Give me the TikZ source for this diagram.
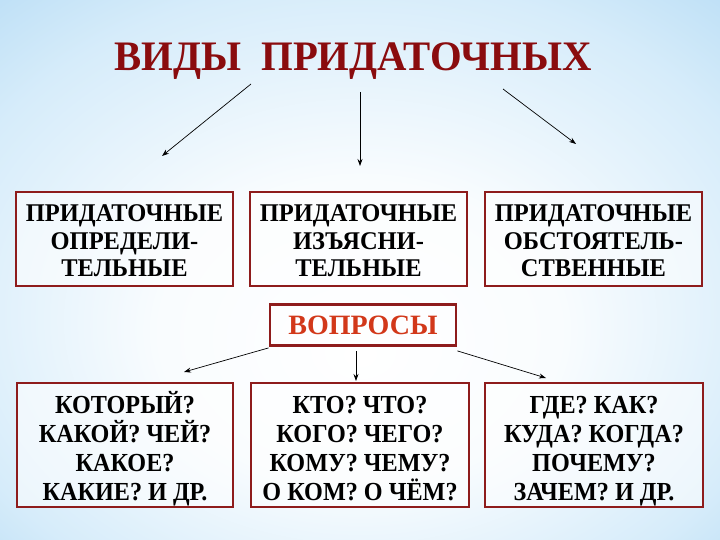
\documentclass[tikz,border=0pt]{standalone}
\usepackage{fontspec}
\setmainfont{Liberation Serif}
\newfontfamily\titlefont[FakeStretch=0.97]{Liberation Serif}
\newfontfamily\kindfont[FakeStretch=0.96]{Liberation Serif}
\newfontfamily\questfont[FakeStretch=0.93]{Liberation Serif}
\usetikzlibrary{arrows.meta}
\newcommand{\kindtop}{\rule{0pt}{21pt}}
\newcommand{\questtop}{\rule{0pt}{30pt}}
\newcommand{\questbot}{\rule[-7pt]{0pt}{7pt}}
\definecolor{bgb}{HTML}{A9D5F3}
\definecolor{bgm}{HTML}{D6ECFA}
\definecolor{titlered}{HTML}{8A0C0E}
\definecolor{boxred}{HTML}{8E1C1C}
\definecolor{qred}{HTML}{D2381A}
\pgfdeclareradialshading{bgshade}{\pgfpoint{0bp}{-8bp}}{%
  color(0bp)=(white);
  color(14bp)=(white!85!bgm);
  color(30bp)=(bgm);
  color(44bp)=(bgb);
  color(50bp)=(bgb)}
\tikzset{
  kindbox/.style={draw=boxred, line width=2.8pt, fill=white, fill opacity=0.55, text opacity=1,
    minimum width=217pt, minimum height=94pt, align=center, inner sep=0pt,
    font=\kindfont\bfseries\fontsize{25.5}{27.5}\selectfont},
  qbox/.style={kindbox, minimum height=124pt, font=\questfont\bfseries\fontsize{26}{29}\selectfont},
  arr/.style={-{Stealth[length=7pt,width=5pt]}, line width=0.7pt, black}
}
\begin{document}
\begin{tikzpicture}[x=1pt,y=-1pt]
\useasboundingbox (0,0) rectangle (720,540);
\shade[shading=bgshade] (0,0) rectangle (720,540);

\node[text=titlered, font=\titlefont\bfseries\fontsize{42}{44}\selectfont] (title) at (353,61) {ВИДЫ\ \ ПРИДАТОЧНЫХ};

\node[kindbox] (k1) at (124.5,239) {\kindtop ПРИДАТОЧНЫЕ\\ОПРЕДЕЛИ-\\ТЕЛЬНЫЕ};
\node[kindbox] (k2) at (358.5,239) {\kindtop ПРИДАТОЧНЫЕ\\ИЗЪЯСНИ-\\ТЕЛЬНЫЕ};
\node[kindbox] (k3) at (593.5,239) {\kindtop ПРИДАТОЧНЫЕ\\ОБСТОЯТЕЛЬ-\\СТВЕННЫЕ};

\node[kindbox, minimum width=186pt, minimum height=41pt, text=qred,
      font=\bfseries\fontsize{28}{30}\selectfont] (q) at (363,325) {ВОПРОСЫ};

\node[qbox, minimum width=216pt] (b1) at (125,445) {\questtop КОТОРЫЙ?\\КАКОЙ? ЧЕЙ?\\КАКОЕ?\\КАКИЕ? И ДР.\questbot};
\node[qbox, minimum width=218pt] (b2) at (360,445) {\questtop КТО? ЧТО?\\КОГО? ЧЕГО?\\КОМУ? ЧЕМУ?\\О КОМ? О ЧЁМ?\questbot};
\node[qbox, minimum width=218pt] (b3) at (594,445) {\questtop ГДЕ? КАК?\\КУДА? КОГДА?\\ПОЧЕМУ?\\ЗАЧЕМ? И ДР.\questbot};

\coordinate (t1) at (251,84);
\coordinate (e1) at (162,156);
\coordinate (t2) at (360,92);
\coordinate (e2) at (360,166);
\coordinate (t3) at (503,89);
\coordinate (e3) at (576,144);
\draw[arr] (t1) -- (e1);
\draw[arr] (t2) -- (e2);
\draw[arr] (t3) -- (e3);

\coordinate (q1) at (q.south west);
\coordinate (f1) at (184,372);
\coordinate (q2) at (356,351);
\coordinate (f2) at (356,381);
\coordinate (q3) at (q.south east);
\coordinate (f3) at (546,378);
\draw[arr] ([yshift=-1pt]q1) -- (f1);
\draw[arr] (q2) -- (f2);
\draw[arr] ([yshift=-4pt]q3) -- (f3);
\end{tikzpicture}
\end{document}
